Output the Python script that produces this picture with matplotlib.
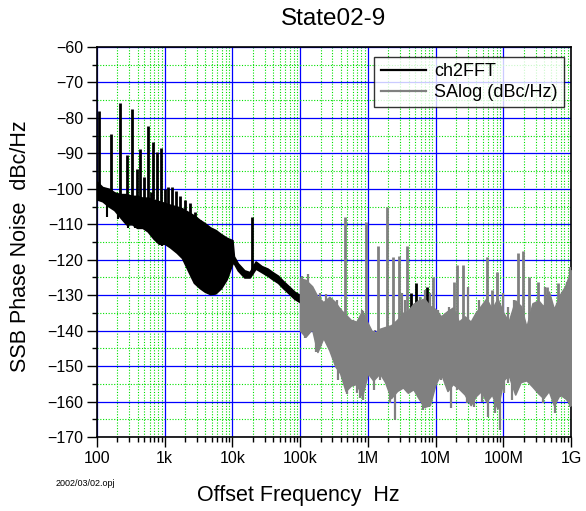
import numpy as np
import matplotlib
matplotlib.use("Agg")
import matplotlib.pyplot as plt
from matplotlib.ticker import FixedLocator, LogLocator, MultipleLocator, NullFormatter

plt.rcParams['font.family'] = ['Liberation Sans', 'DejaVu Sans']

# ---------- Data ----------
# ch2FFT : band envelope (low / high edge), dBc/Hz
ch2_f = [100, 120, 150, 180, 220, 270, 330, 390, 470, 560, 680, 820,
         1e3, 1.2e3, 1.5e3, 1.8e3, 2.2e3, 2.7e3, 3.3e3, 3.9e3, 4.7e3, 5.6e3, 6.8e3, 8.2e3,
         1e4, 1.05e4, 1.2e4, 1.5e4, 1.8e4, 2.2e4, 2.7e4, 3.3e4, 3.9e4, 4.7e4, 5.6e4, 6.8e4, 8.2e4, 1e5]
ch2_hi = [-98, -99.5, -100, -101, -101.5, -101.5, -102, -102, -102.5, -102.5, -103, -103.5,
          -104, -104.5, -105, -105.5, -106.5, -107.5, -108.8, -109.7, -110.9, -111.6, -112.8, -113.8,
          -114.5, -119, -121, -123, -123.5, -120.5, -121.8, -122.5, -123.5, -124.5, -126, -127.5, -129, -130]
ch2_lo = [-103, -103.5, -105, -106, -108, -110, -110, -111, -111, -112, -114, -115.5,
          -115.5, -116.5, -118, -119.5, -123, -126.5, -128, -129, -129.7, -129.5, -128, -125.5,
          -121, -121, -123, -125, -125, -122.5, -123.5, -124.5, -125.5, -126.5, -128, -129.5, -131, -132]

# ch2FFT : discrete spurs (frequency, peak, foot)
ch2_spur_f = [108, 162, 219, 275, 326, 385, 437, 490, 557, 620, 672, 777, 882,
              1010, 1130, 1290, 1470, 1680, 1990, 2370, 2800, 3300, 3900, 4600, 5800, 7300, 19500,
              4.4e6, 5.2e6, 7.4e6]
ch2_spur_top = [-78, -84.5, -75.7, -90.5, -77.6, -94.5, -88.7, -96.8, -82.3, -101, -86.8, -89.5, -88.6,
                -100, -99.4, -99.6, -100.5, -102, -103.2, -104, -106.4, -108.8, -110, -111, -112, -113.5,
                -107.9,
                -129.4, -126.6, -127.6]
ch2_spur_foot = [-100, -101, -102, -102, -102, -102, -103, -103, -103, -103, -103, -104, -104,
                 -105, -105, -105, -105, -106, -106, -107, -108, -109, -110, -111, -112, -114,
                 -124,
                 -140, -140, -140]
ch2_dip_f = [139, 205, 287, 364, 510, 800, 900]
ch2_dip_bottom = [-108, -108.5, -111, -111, -110.6, -115.4, -116.1]

# SAlog : band envelope
sa_f = [1e5, 1.2e5, 1.5e5, 1.8e5, 2.2e5, 2.7e5, 3.3e5, 3.9e5, 4.7e5, 5.6e5, 6.8e5, 8.2e5,
        1e6, 1.2e6, 1.5e6, 1.8e6, 2.2e6, 2.7e6, 3.3e6, 3.9e6, 4.7e6, 5.6e6, 6.8e6, 8.2e6,
        1e7, 1.2e7, 1.5e7, 1.8e7, 2.2e7, 2.7e7, 3.3e7, 3.9e7, 4.7e7, 5.6e7, 6.8e7, 8.2e7,
        1e8, 1.2e8, 1.5e8, 1.8e8, 2.2e8, 2.7e8, 3.3e8, 3.9e8, 4.7e8, 5.6e8, 6.8e8, 8.2e8, 1e9]
sa_hi = [-125.3, -125.7, -127.5, -130.4, -132, -130.5, -132, -134, -135.5, -137, -137.5, -134.5,
         -138, -141, -139.5, -139, -138.5, -137, -135, -134.5, -132.5, -131.5, -131, -133,
         -134, -136, -134.5, -133.5, -137.5, -136, -137.5, -135, -133, -131, -134, -131,
         -135, -137.5, -131.5, -133, -139, -132.3, -131.5, -133.2, -129, -134, -130, -127.5, -123]
sa_lo = [-140, -141.7, -139.5, -146, -142, -145.5, -150, -152, -157, -155.5, -155, -158.5,
         -152, -154, -152, -154.5, -159, -157, -156, -157.5, -156.5, -159, -161.5, -161,
         -155, -152, -157, -155, -156.3, -158, -161, -158.5, -157, -160, -158, -162,
         -154, -152.5, -158, -154.5, -154, -155.8, -157.7, -159, -157, -161, -158, -159, -161]

# SAlog : tall spurs
sa_spur_f = [4.62e5, 9.44e5, 1.43e6, 1.91e6, 2.36e6, 2.87e6, 3.81e6, 9.3e6, 1.84e7, 2.06e7,
             2.58e7, 5.7e7, 6.8e7, 8.0e7, 1.66e8, 1.94e8, 2.41e8, 3.31e8, 4.41e8, 6.41e8]
sa_spur_top = [-107.9, -109.3, -116.2, -105, -119.2, -119, -116.1, -124.8, -126.2, -121.5,
               -121.5, -119.1, -128.5, -123.4, -118, -117.4, -124.8, -126.2, -127.6, -126.5]
# SAlog : smaller noise peaks on the upper edge
sa_peak_f = [1.06e5, 1.30e5, 1.97e5, 2.40e5, 2.77e5, 3.48e5, 3.9e5, 6.13e5, 8.16e5, 8.6e5,
             1.28e6, 3.17e6, 3.56e6, 4.9e6, 5.9e6, 7.0e6, 8.4e6,
             1.08e7, 1.33e7, 1.58e7, 3.0e7, 4.4e7, 5.1e7, 5.97e7, 7.1e7, 1.0e8,
             1.19e8, 1.46e8, 2.92e8, 4.17e8, 5.2e8, 7.7e8, 8.7e8, 9.8e8]
sa_peak_top = [-124.5, -124, -129.5, -129.8, -131, -131.4, -133.5, -137, -134.2, -134.5,
               -139.8, -129.4, -131.4, -132.3, -130.4, -128.5, -129.4,
               -134.2, -136.1, -133.2, -127.6, -131.4, -133.2, -132, -131.4, -129.5,
               -133.2, -131.4, -132.3, -127.6, -133, -132.3, -126.2, -122]
# SAlog : drop-outs on the lower edge
sa_dip_f = [1.19e5, 1.71e5, 2.94e5, 3.6e5, 4.89e5, 6.88e5, 7.7e5, 8.6e5,
            1.25e6, 1.52e6, 2.14e6, 2.49e6, 3.98e6, 5.6e6, 6.6e6, 7.8e6,
            1.19e7, 1.7e7, 2.06e7, 2.87e7, 3.75e7, 4.8e7, 5.98e7, 7.6e7, 9.0e7, 1.04e8,
            1.16e8, 1.36e8, 1.7e8, 2.15e8, 2.96e8, 3.9e8, 5.75e8, 6.9e8, 8.7e8, 9.8e8]
sa_dip_bottom = [-142, -146, -146.4, -154, -158, -157.7, -159, -159.6,
                 -156.8, -153.9, -160.5, -165.2, -157.7, -158.6, -162.4, -161.5,
                 -153.9, -161.9, -156.8, -160.5, -161.5, -160.1, -164.3, -163.3, -168, -157.7,
                 -154.9, -159.6, -153.9, -153.9, -155.8, -160.5, -163.3, -158.6, -159.6, -161.5]
sa_foot = -140

x_ticks = [1e2, 1e3, 1e4, 1e5, 1e6, 1e7, 1e8, 1e9]
x_labels = ['100', '1k', '10k', '100k', '1M', '10M', '100M', '1G']

# ---------- Figure ----------
fig = plt.figure(figsize=(5.86, 5.11), dpi=100)
ax = fig.add_axes([97 / 586, 1 - 437 / 511, 474 / 586, 390 / 511])

ch2_col = 'black'
sa_col = '#808080'

ax.fill_between(ch2_f, ch2_lo, ch2_hi, color=ch2_col, lw=1.2, zorder=3)
ax.vlines(ch2_spur_f, ch2_spur_foot, ch2_spur_top, color=ch2_col, lw=2.0, zorder=3)
ax.vlines(ch2_dip_f, ch2_dip_bottom, -104, color=ch2_col, lw=1.5, zorder=3)
ax.plot([], [], color=ch2_col, lw=1.6, label='ch2FFT')

ax.fill_between(sa_f, sa_lo, sa_hi, color=sa_col, lw=1.2, zorder=4)
ax.vlines(sa_spur_f, sa_foot, sa_spur_top, color=sa_col, lw=2.0, zorder=4)
ax.vlines(sa_peak_f, sa_foot, sa_peak_top, color=sa_col, lw=1.6, zorder=4)
ax.vlines(sa_dip_f, sa_dip_bottom, sa_foot, color=sa_col, lw=1.6, zorder=4)
ax.plot([], [], color=sa_col, lw=1.6, label='SAlog (dBc/Hz)')

ax.set_xscale('log')
ax.set_xlim(1e2, 1e9)
ax.set_ylim(-170, -60)

ax.xaxis.set_major_locator(FixedLocator(x_ticks))
ax.set_xticklabels(x_labels)
ax.xaxis.set_minor_locator(LogLocator(base=10, subs=range(2, 10), numticks=20))
ax.xaxis.set_minor_formatter(NullFormatter())
ax.yaxis.set_major_locator(MultipleLocator(10))
ax.yaxis.set_minor_locator(MultipleLocator(5))

ax.tick_params(which='major', direction='out', length=7, width=1, labelsize=11.5, pad=3)
ax.tick_params(which='minor', direction='out', length=3.5, width=1)

ax.set_axisbelow(True)
ax.grid(which='major', color='#0000ff', lw=0.9, ls='-')
ax.grid(which='minor', color='#00e000', lw=0.8, ls=(0, (1, 1.5)))

for s in ax.spines.values():
    s.set_linewidth(1.2)

leg = ax.legend(loc='upper right', bbox_to_anchor=(0.985, 0.974), borderaxespad=0,
                fontsize=13, frameon=True, fancybox=False, handlelength=2.5,
                handletextpad=0.45, borderpad=0.35, labelspacing=0.2)
leg.get_frame().set_edgecolor('black')
leg.get_frame().set_linewidth(1.0)

fig.text(334 / 586, 1 - 19 / 511, 'State02-9', fontsize=17.5, ha='center', va='center')
fig.text(298 / 586, 1 - 496 / 511, 'Offset Frequency  Hz', fontsize=15.5, ha='center', va='center')
fig.text(21 / 586, 1 - 246 / 511, 'SSB Phase Noise  dBc/Hz', fontsize=15.5, ha='center', va='center',
         rotation=90)
fig.text(56 / 586, 1 - 483 / 511, '2002/03/02.opj', fontsize=6.5, ha='left', va='center')

fig.savefig('out.png', dpi=100)
